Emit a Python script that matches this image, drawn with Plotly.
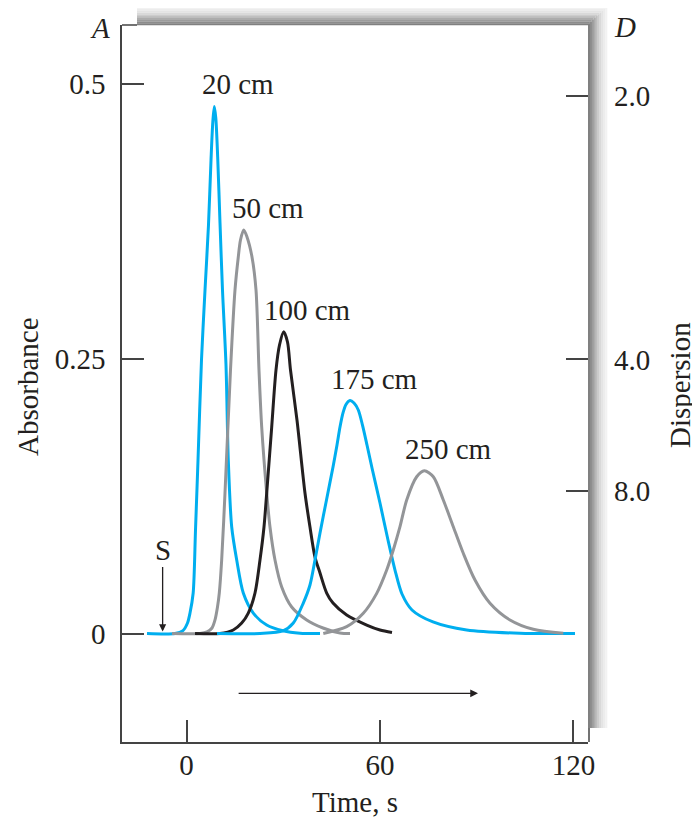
import plotly.graph_objects as go

# ---------------- data ----------------
lengths = ["20 cm", "50 cm", "100 cm", "175 cm", "250 cm"]

t_20 = [-12.25, -3.57, -1.09, 0.31, 1.09, 2.07, 2.79, 3.57, 4.65, 5.74, 6.82, 7.60, 8.16, 8.62,
        9.09, 9.67, 10.39, 11.16, 12.25, 12.96, 14.02, 15.57, 17.61, 20.71, 24.87, 29.92, 35.19, 41.40]
a_20 = [0, 0, 0.0027, 0.0095, 0.0186, 0.0368, 0.0941, 0.1577, 0.2486, 0.3123, 0.3714, 0.4305, 0.4650, 0.4791,
        0.4686, 0.4332, 0.3732, 0.3123, 0.2441, 0.1577, 0.0968, 0.0668, 0.0368, 0.0186, 0.0077, 0.0025, 0.0003, 0]

t_50 = [-4.50, 4.19, 6.36, 7.91, 8.84, 9.61, 10.17, 10.91, 11.94, 13.64, 15.04, 16.06, 16.74, 17.74,
        18.76, 20.31, 21.55, 22.48, 23.32, 24.87, 25.89, 27.44, 29.52, 32.62, 37.27, 42.33, 47.60, 50.70]
a_50 = [0, 0, 0.0014, 0.0050, 0.0123, 0.0241, 0.0368, 0.0668, 0.1277, 0.2395, 0.3123, 0.3423, 0.3577, 0.3668,
        0.3605, 0.3423, 0.3123, 0.2395, 0.1877, 0.1277, 0.0968, 0.0668, 0.0423, 0.0241, 0.0123, 0.0050, 0.0005, 0]

t_100 = [2.64, 10.39, 14.51, 17.12, 19.16, 21.24, 22.79, 24.03, 24.87, 26.42, 27.75, 28.84, 30.14,
         31.32, 32.25, 34.26, 36.74, 38.29, 39.84, 41.40, 43.47, 45.43, 49.67, 55.88, 60.00, 63.72]
a_100 = [0, 0, 0.0032, 0.0095, 0.0186, 0.0368, 0.0668, 0.0968, 0.1277, 0.1877, 0.2395, 0.2623, 0.2744,
         0.2650, 0.2395, 0.1941, 0.1277, 0.0968, 0.0695, 0.0550, 0.0368, 0.0277, 0.0168, 0.0077, 0.0032, 0.0009]

t_175 = [9.46, 22.79, 29.92, 33.12, 36.22, 38.29, 39.84, 41.40, 43.41, 45.43, 46.67, 47.60, 48.53, 49.46,
         50.70, 51.94, 53.27, 54.57, 55.97, 57.52, 60.00, 62.48, 64.65, 66.82, 69.92, 76.43, 86.88,
         103.41, 120.47]
a_175 = [0, 0, 0.0023, 0.0095, 0.0277, 0.0441, 0.0668, 0.0914, 0.1214, 0.1514, 0.1714, 0.1877, 0.2005, 0.2082,
         0.2118, 0.2095, 0.2032, 0.1895, 0.1714, 0.1505, 0.1186, 0.0850, 0.0577, 0.0359, 0.0214, 0.0105, 0.0032,
         0.0002, 0]

t_250 = [42.42, 49.67, 54.82, 58.98, 62.08, 64.12, 66.20, 68.28, 71.38, 73.74, 76.53, 79.63, 82.73,
         85.83, 89.46, 94.11, 100.31, 107.53, 116.84]
a_250 = [0, 0.0062, 0.0184, 0.0365, 0.0577, 0.0759, 0.0971, 0.1214, 0.1425, 0.1480, 0.1425, 0.1214, 0.0971,
         0.0729, 0.0486, 0.0275, 0.0123, 0.0038, 0.0002]

x_ticks = [0, 60, 120]
abs_ticks = [0, 0.25, 0.5]
abs_tick_text = ["0", "0.25", "0.5"]
dispersion_ticks = [2.0, 4.0, 8.0]
dispersion_tick_text = ["2.0", "4.0", "8.0"]
injection_t = -7.4

# ---------------- styling ----------------
CYAN = "#00AEEF"
GRAY = "#939598"
BLACK = "#231F20"
AXC = "#444444"
FONT = "Liberation Serif"
FS = 29

series = [(t_20, a_20, CYAN), (t_50, a_50, GRAY), (t_100, a_100, BLACK),
          (t_175, a_175, CYAN), (t_250, a_250, GRAY)]

fig = go.Figure()
for t, a, col in series:
    fig.add_trace(go.Scatter(x=t, y=a, mode="lines",
                             line=dict(color=col, width=3, shape="spline", smoothing=0.8),
                             hoverinfo="skip", showlegend=False))

# carrier for the dispersion axis (1/D scale)
fig.add_trace(go.Scatter(x=[None] * len(dispersion_ticks), y=[1 / d for d in dispersion_ticks],
                         yaxis="y2", mode="markers", marker=dict(opacity=0),
                         hoverinfo="skip", showlegend=False))

# page has an 8px body margin: compensate so the plot lands where intended
OFF = 8
W, H = 700, 819
PL, PT = 122, 25            # plot-area left/top in window pixels
PW, PH = 466, 717           # plot-area size
L, T = PL - OFF, PT - OFF
R, B = W - L - PW, H - T - PH


def px_x(px):
    return (px - PL) / PW


def px_y(py):
    return (PT + PH - py) / PH


shapes = []
# drop-shadow bands on top and right of the panel
greys = [128, 140, 156, 172, 189, 204, 217, 228, 236, 242]
N = len(greys)
dw, dh = 19 / N, 18 / N
right_edge = PL + PW
for k, g in enumerate(greys):
    c = f"rgb({g},{g},{g})"
    shapes.append(dict(type="rect", xref="paper", yref="paper", layer="below",
                       x0=px_x(right_edge + k * dw), x1=px_x(right_edge + (k + 1) * dw + 0.3),
                       y0=px_y(728), y1=px_y(PT - (k + 1) * dh),
                       fillcolor=c, line=dict(width=0)))
    shapes.append(dict(type="rect", xref="paper", yref="paper", layer="below",
                       x0=px_x(137), x1=px_x(right_edge + k * dw),
                       y0=px_y(PT - k * dh + 0.3), y1=px_y(PT - (k + 1) * dh),
                       fillcolor=c, line=dict(width=0)))
# short frame pieces not covered by the shadow
shapes.append(dict(type="line", xref="paper", yref="paper", x0=0, x1=px_x(137), y0=1, y1=1,
                   line=dict(color=AXC, width=1.5)))
shapes.append(dict(type="line", xref="paper", yref="paper", x0=px_x(589), x1=px_x(589),
                   y0=px_y(728), y1=0, line=dict(color=AXC, width=1.5)))

annotations = []
# curve labels, placed just up-right of each peak
for (t, a, _), lab in zip(series, lengths):
    i = a.index(max(a))
    annotations.append(dict(x=t[i], y=a[i], xref="x", yref="y", text=lab, showarrow=False,
                            xanchor="center", yanchor="middle",
                            xshift=24, yshift=22, font=dict(family=FONT, size=FS, color=BLACK)))
# injection marker S
annotations.append(dict(x=injection_t, y=0, xref="x", yref="y", text="S", showarrow=True,
                        ax=0, ay=-84, arrowhead=2, arrowsize=1.1, arrowwidth=1.3, arrowcolor=BLACK,
                        standoff=2, font=dict(family=FONT, size=FS, color=BLACK)))
# flow direction arrow
annotations.append(dict(x=90.4, y=-0.0544, xref="x", yref="y", ax=15.7, ay=-0.0544,
                        axref="x", ayref="y", text="", showarrow=True, arrowhead=2,
                        arrowsize=1.2, arrowwidth=1.3, arrowcolor=BLACK))


def title(text, px, py, angle=0):
    return dict(x=px_x(px), y=px_y(py), xref="paper", yref="paper", text=text, textangle=angle,
                xanchor="center", yanchor="middle", showarrow=False,
                font=dict(family=FONT, size=FS, color=BLACK))


annotations += [
    title("Absorbance", 28, 387, -90),
    title("Dispersion", 680, 385, -90),
    title("Time, s", 355, 802),
    title("<i>A</i>", 100, 28),
    title("<i>D</i>", 625, 27),
]

tickfont = dict(family=FONT, size=FS, color=BLACK)
fig.update_layout(
    width=W, height=H, margin=dict(l=L, r=R, t=T, b=B, pad=0),
    paper_bgcolor="white", plot_bgcolor="white",
    font=dict(family=FONT, size=FS, color=BLACK),
    xaxis=dict(range=[-20, 124.5], tickmode="array", tickvals=x_ticks,
               ticktext=[str(v) for v in x_ticks],
               ticks="inside", ticklen=22, tickwidth=1.5, tickcolor=AXC,
               showline=True, linecolor=AXC, linewidth=1.5, mirror=False,
               showgrid=False, zeroline=False, tickfont=tickfont, ticklabelstandoff=-4),
    yaxis=dict(range=[-0.09864, 0.55318], tickmode="array", tickvals=abs_ticks,
               ticktext=abs_tick_text,
               ticks="inside", ticklen=22, tickwidth=1.5, tickcolor=AXC,
               showline=True, linecolor=AXC, linewidth=1.5, mirror=False,
               showgrid=False, zeroline=False, tickfont=tickfont, ticklabelstandoff=9),
    yaxis2=dict(overlaying="y", side="right", range=[-0.1130, 0.5673], tickmode="array",
                tickvals=[1 / d for d in dispersion_ticks], ticktext=dispersion_tick_text,
                ticks="inside", ticklen=22, tickwidth=1.5, tickcolor=AXC,
                showline=False, showgrid=False, zeroline=False, tickfont=tickfont,
                ticklabelstandoff=25),
    shapes=shapes, annotations=annotations, showlegend=False,
)

fig.write_html("out.html")
